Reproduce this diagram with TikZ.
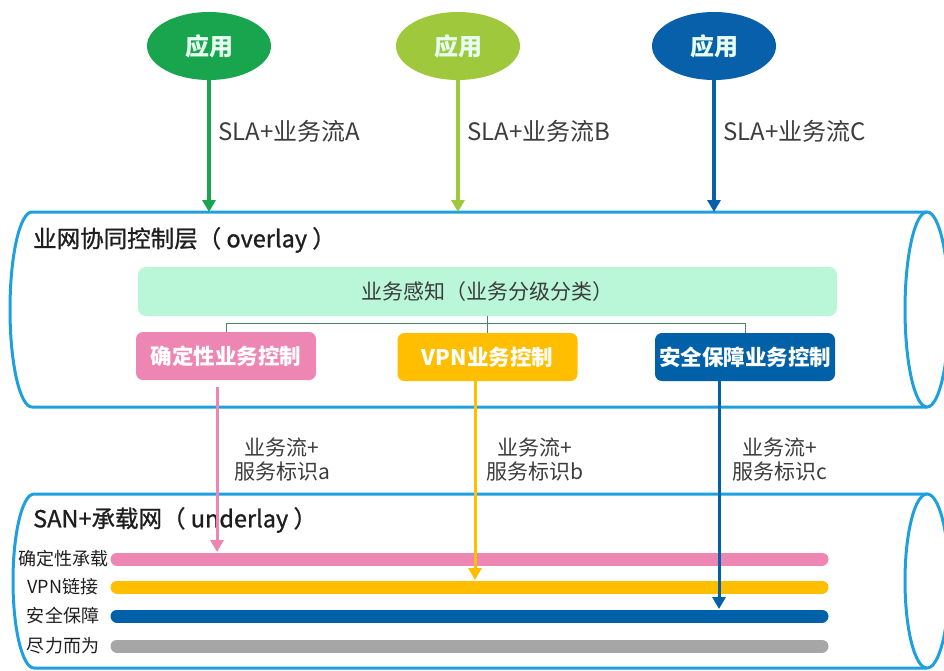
\documentclass[tikz,border=0pt]{standalone}
\usepackage{fontspec}
\setmainfont{Noto Sans CJK SC}
\newfontfamily\layerfont[FakeBold=1]{Noto Sans CJK SC}
\usetikzlibrary{shapes,arrows,positioning,calc,arrows.meta}

\definecolor{appgreen}{RGB}{24,165,78}
\definecolor{applime}{RGB}{160,200,60}
\definecolor{appblue}{RGB}{8,96,170}
\definecolor{appwhite}{RGB}{230,255,240}
\definecolor{pipeblue}{RGB}{30,160,222}
\definecolor{mint}{RGB}{186,246,216}
\definecolor{ctlpink}{RGB}{238,134,180}
\definecolor{ctlorange}{RGB}{255,190,0}
\definecolor{ctlblue}{RGB}{0,96,168}
\definecolor{bestgray}{RGB}{166,166,166}
\definecolor{treegreen}{RGB}{80,130,100}
\definecolor{txtgray}{RGB}{60,60,60}
\definecolor{txtdark}{RGB}{30,30,30}

\begin{document}
\begin{tikzpicture}[x=1pt, y=-1pt,
    app/.style={ellipse, minimum width=124pt, minimum height=68pt, inner sep=0pt, text=appwhite, font=\fontsize{24}{26}\selectfont\bfseries},
    appflow/.style={line width=3.5pt, -{Triangle[width=13pt,length=12pt]}},
    ctlflow/.style={line width=3pt, -{Triangle[width=13pt,length=12pt]}},
    lbl/.style={text=txtgray, font=\fontsize{21}{24}\selectfont, inner sep=0pt},
    pipe/.style={draw=pipeblue, line width=3pt},
    layertitle/.style={text=txtdark, font=\fontsize{23.5}{26}\layerfont, inner sep=0pt, anchor=west},
    sense/.style={fill=mint, rounded corners=8pt, minimum width=699pt, minimum height=49pt, text=txtgray, font=\fontsize{21}{24}\selectfont},
    ctl/.style={rounded corners=7pt, minimum width=180pt, minimum height=48pt, text=white, font=\fontsize{21.5}{24}\selectfont\bfseries, inner sep=0pt},
    treeline/.style={draw=treegreen, line width=1pt},
    busbar/.style={line width=13pt, line cap=round},
    barlbl/.style={text=txtdark, font=\fontsize{18}{20}\selectfont, inner sep=0pt}
]
    \useasboundingbox (0,0) rectangle (944,670);

    % Pipes
    \draw[pipe] (927,212) -- (32,212) arc[start angle=90, end angle=270, x radius=22pt, y radius=97.5pt] -- (927,407);
    \draw[pipe] (927,309.5) ellipse[x radius=22pt, y radius=97.5pt];
    \draw[pipe] (927,494) -- (34,494) arc[start angle=90, end angle=270, x radius=21pt, y radius=87pt] -- (927,668);
    \draw[pipe] (927,581) ellipse[x radius=22pt, y radius=87pt];

    \node[layertitle] (ovTitle) at (33,240) {业网协同控制层（ overlay ）};
    \node[layertitle] (unTitle) at (33,520) {SAN+承载网（ underlay ）};

    % Applications
    \foreach \n/\x/\c in {A/209/appgreen, B/458/applime, C/714/appblue} {
        \node[app, fill=\c] (app\n) at (\x,46) {应用};
        \coordinate (in\n) at (\x,212);
        \draw[appflow, \c] (app\n) -- (in\n);
        \node[lbl, anchor=west, font=\fontsize{24}{26}\selectfont] (sla\n) at (\x+9,131) {SLA+业务流\n};
    }

    % Overlay control
    \node[sense] (sense) at (487.5,291.5) {业务感知（业务分级分类）};
    \node[ctl, fill=ctlpink] (ctlA) at (226,356) {确定性业务控制};
    \node[ctl, fill=ctlorange] (ctlB) at (487.5,357) {VPN业务控制};
    \node[ctl, fill=ctlblue] (ctlC) at (745,357) {安全保障业务控制};

    \coordinate (fork) at ($(sense.south)+(0,7)$);
    \draw[treeline] (sense.south) -- (ctlB.north);
    \draw[treeline] (ctlA.north) |- (fork) -| (ctlC.north);

    % Underlay bars
    \foreach \y/\c/\t [count=\i] in {559/ctlpink/确定性承载, 587/ctlorange/VPN链接, 616/ctlblue/安全保障, 646/bestgray/尽力而为} {
        \coordinate (barW\i) at (117,\y);
        \coordinate (barE\i) at (822,\y);
        \draw[busbar, \c] (barW\i) -- (barE\i);
        \node[barlbl] (barLbl\i) at (63,\y) {\t};
    }

    % Flows down to the underlay
    \coordinate (hitA) at (217,552);
    \coordinate (hitB) at (475,580);
    \coordinate (hitC) at (719,609);
    \draw[ctlflow, ctlpink, shorten <=7pt] (ctlA.south -| hitA) -- (hitA);
    \draw[ctlflow, ctlorange] (ctlB.south -| hitB) -- (hitB);
    \draw[ctlflow, ctlblue] (ctlC.south -| hitC) -- (hitC);

    \node[lbl, align=center] (tagA) at (282,460) {业务流+\\服务标识a};
    \node[lbl, align=center] (tagB) at (535,460) {业务流+\\服务标识b};
    \node[lbl, align=center] (tagC) at (780,460) {业务流+\\服务标识c};
\end{tikzpicture}
\end{document}
